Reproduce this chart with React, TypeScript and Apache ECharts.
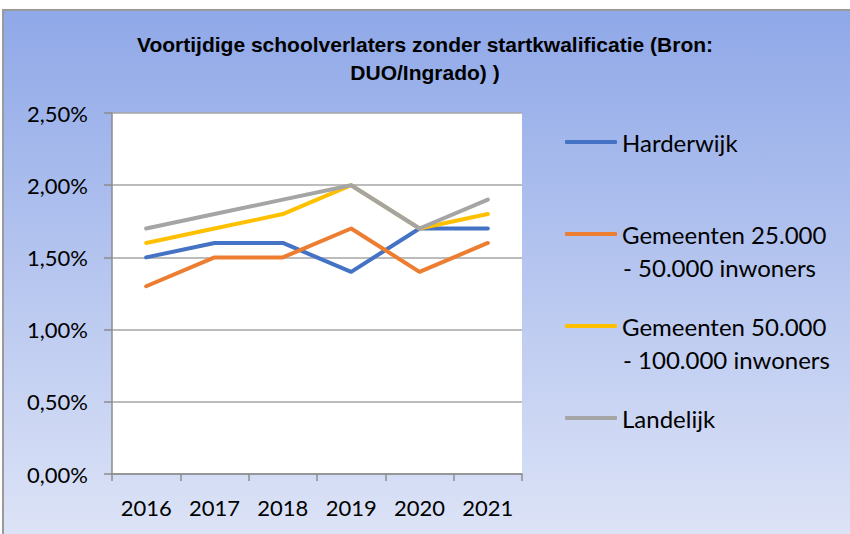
import React, { useEffect, useRef } from "react";
import * as echarts from "echarts";

const years = ["2016", "2017", "2018", "2019", "2020", "2021"];
const seriesNames = [
  "Harderwijk",
  "Gemeenten 25.000 - 50.000 inwoners",
  "Gemeenten 50.000 - 100.000 inwoners",
  "Landelijk",
];
const legendFirstLines = ["Harderwijk", "Gemeenten 25.000", "Gemeenten 50.000", "Landelijk"];
const legendSecondLines = ["", "- 50.000 inwoners", "- 100.000 inwoners", ""];
const harderwijk = [0.015, 0.016, 0.016, 0.014, 0.017, 0.017];
const gemeenten25 = [0.013, 0.015, 0.015, 0.017, 0.014, 0.016];
const gemeenten50 = [0.016, 0.017, 0.018, 0.02, 0.017, 0.018];
const landelijk = [0.017, 0.018, 0.019, 0.02, 0.017, 0.019];
const colors = ["#4472C4", "#ED7D31", "#FFC000", "#A5A5A5"];
const titleText = "Voortijdige schoolverlaters zonder startkwalificatie (Bron:\nDUO/Ingrado) )";

const FONT = "Lato, 'Open Sans', sans-serif";
const TITLE_FONT = "'Liberation Sans Narrow', 'Arial Narrow', 'Liberation Sans', Arial, sans-serif";

export default function App() {
  const ref = useRef<HTMLDivElement>(null);
  useEffect(() => {
    if (!ref.current) return;
    const chart = echarts.init(ref.current, null, { renderer: "svg" });
    const values = [harderwijk, gemeenten25, gemeenten50, landelijk];
    const legendY = [142, 234, 326, 418];
    const option: any = {
      animation: false,
      title: {
        text: titleText,
        left: "center",
        top: 30,
        padding: 0,
        textStyle: {
          fontFamily: TITLE_FONT,
          fontSize: 21,
          fontWeight: "bold",
          color: "#000",
          lineHeight: 28,
        },
      },
      graphic: [
        {
          type: "rect",
          z: -10,
          silent: true,
          shape: { x: 3, y: 10, width: 860, height: 540 },
          style: {
            fill: new echarts.graphic.LinearGradient(0, 0, 0, 1, [
              { offset: 0, color: "#8FA8E8" },
              { offset: 1, color: "#DFE5F7" },
            ]),
            stroke: "#9A9A9A",
            lineWidth: 2,
          },
        },
        ...legendSecondLines
          .map((t, i) => ({ t, i }))
          .filter((d) => d.t)
          .map((d) => ({
            type: "text",
            left: 623,
            top: legendY[d.i] + 33 - 14,
            style: {
              text: d.t,
              font: `24px ${FONT}`,
              fill: "#000",
              lineHeight: 28,
              verticalAlign: "top",
            },
          })),
      ],
      legend: seriesNames.map((name, i) => ({
        data: [name],
        left: 565,
        top: legendY[i] - 14,
        padding: 0,
        icon: "roundRect",
        itemWidth: 52,
        itemHeight: 4,
        formatter: () => legendFirstLines[i],
        textStyle: { fontFamily: FONT, fontSize: 24, color: "#000", lineHeight: 28 },
        selectedMode: false,
      })),
      grid: {
        left: 112,
        right: 328,
        top: 113,
        bottom: 60,
        show: true,
        backgroundColor: "#FFFFFF",
        borderWidth: 0,
      },
      xAxis: {
        type: "category",
        data: years,
        boundaryGap: true,
        axisLine: { show: true, lineStyle: { color: "#8C8C8C", width: 1.5 } },
        axisTick: { show: true, length: 7, lineStyle: { color: "#8C8C8C", width: 1.5 } },
        axisLabel: { fontFamily: FONT, fontSize: 22, color: "#000", margin: 22 },
      },
      yAxis: {
        type: "value",
        min: 0,
        max: 0.025,
        interval: 0.005,
        axisLine: { show: true, lineStyle: { color: "#8C8C8C", width: 1.5 } },
        axisTick: { show: true, length: 8, lineStyle: { color: "#8C8C8C", width: 1.5 } },
        splitLine: { show: true, lineStyle: { color: "#A6A6A6", width: 1.5 } },
        axisLabel: {
          fontFamily: FONT,
          fontSize: 22,
          color: "#000",
          margin: 24,
          formatter: (v: number) => (v * 100).toFixed(2).replace(".", ",") + "%",
        },
      },
      series: seriesNames.map((name, i) => ({
        name,
        type: "line",
        data: values[i],
        showSymbol: false,
        symbol: "none",
        lineStyle: { color: colors[i], width: 4, cap: "round", join: "round" },
        itemStyle: { color: colors[i] },
        z: 2 + i,
      })),
    };
    chart.setOption(option);
    return () => chart.dispose();
  }, []);
  return (
    <div
      ref={ref}
      style={{ position: "absolute", left: 0, top: 0, width: 850, height: 534 }}
    />
  );
}
